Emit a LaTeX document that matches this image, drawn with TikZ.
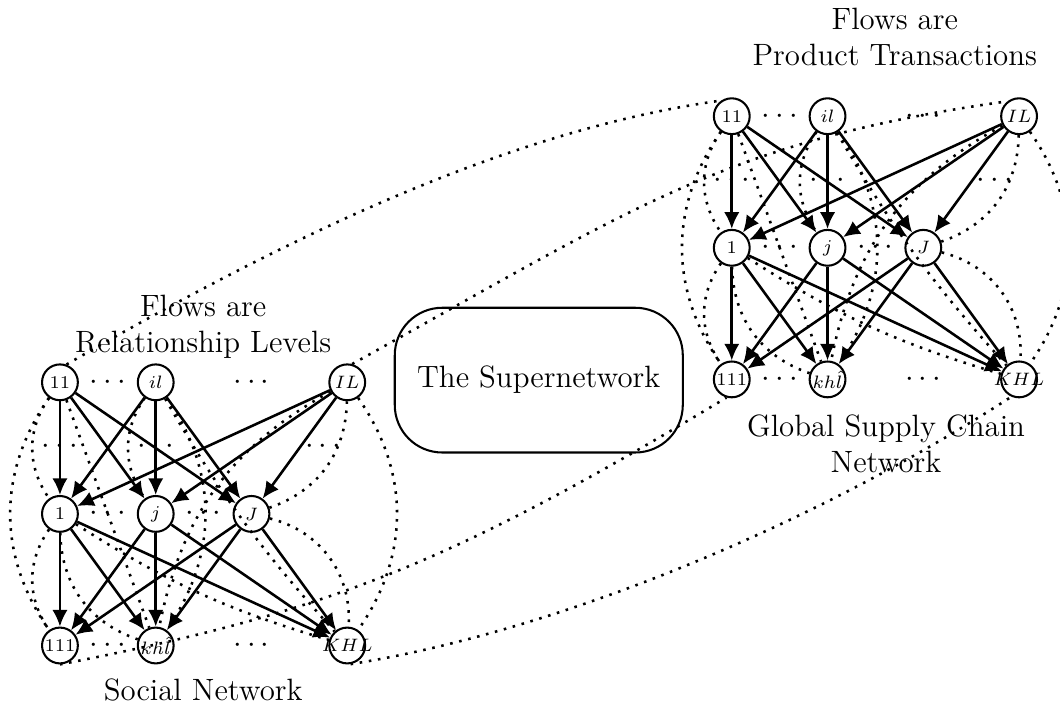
\documentclass[tikz,border=0pt]{standalone}
\usepackage{amssymb}
\usepackage{tikz}
\usetikzlibrary{arrows.meta,positioning}

\begin{document}
\begin{tikzpicture}[node distance=1.8cm and 1.31cm, on grid,
    net/.style={circle, draw, thick, minimum size=0.49cm, inner sep=0pt, font=\scriptsize},
    flow/.style={line width=1pt, -{Latex[length=6.5pt,width=6pt]}},
    link/.style={line width=1pt, dash pattern=on 1pt off 2.6pt},
    dots/.style={font=\large},
    lbl/.style={font=\large, align=center}]
  \useasboundingbox (0,0) rectangle (14.5,9.85);

  % the two networks: s = social, g = global supply chain
  \foreach \n/\x/\y in {s/0.82/4.62, g/10.01/8.26} {
    \node[net] (\n-t1) at (\x,\y) {11};
    \node[net] (\n-t2) [right=of \n-t1] {$il$};
    \node[net] (\n-t3) [right=2.62cm of \n-t2] {$IL$};
    \node[net] (\n-m1) [below=of \n-t1] {1};
    \node[net] (\n-m2) [right=of \n-m1] {$j$};
    \node[net] (\n-m3) [right=of \n-m2] {$J$};
    \node[net] (\n-b1) [below=of \n-m1] {111};
    \node[net] (\n-b2) [right=of \n-b1] {$kh\hat{l}$};
    \node[net] (\n-b3) [right=2.62cm of \n-b2] {\makebox[0pt]{$KHL$}};

    \node[dots] (\n-d1) [right=0.655cm of \n-t1] {$\cdots$};
    \node[dots] (\n-d2) [right=1.31cm of \n-t2] {$\cdots$};
    \node[dots] (\n-d3) [below=0.875cm of \n-t1] {$\cdots$};
    \node[dots] (\n-d4) [below=0.875cm of \n-t2] {$\cdots$};
    \node[dots] (\n-d5) [below left=0.875cm and 0.33cm of \n-t3] {$\cdots$};
    \node[dots] (\n-d6) [right=0.655cm of \n-m1] {$\cdots$};
    \node[dots] (\n-d7) [right=0.655cm of \n-m2] {$\cdots$};
    \node[dots] (\n-d8) [right=0.655cm of \n-b1] {$\cdots$};
    \node[dots] (\n-d9) [right=1.31cm of \n-b2] {$\cdots$};

    \foreach \a in {t1,t2,t3}
      \foreach \b in {m1,m2,m3}
        \draw[flow] (\n-\a) -- (\n-\b);
    \foreach \a in {m1,m2,m3}
      \foreach \b in {b1,b2,b3}
        \draw[flow] (\n-\a) -- (\n-\b);

    \draw[link] (\n-t1) to[bend right=35] (\n-m1);
    \draw[link] (\n-t2) to[bend right=35] (\n-m2);
    \draw[link] (\n-t3) to[bend left=35] (\n-m3);
    \draw[link] (\n-t1) to[bend right=35] (\n-b1);
    \draw[link] (\n-t1) -- (\n-b2);
    \draw[link] (\n-t2) to[bend left=35] (\n-b2);
    \draw[link] (\n-t2) to[bend right=6] (\n-b3);
    \draw[link] (\n-t3) to[bend right=25] (\n-b2);
    \draw[link] (\n-t3) to[bend left=35] (\n-b3);
    \draw[link] (\n-m1) to[bend right=35] (\n-b1);
    \draw[link] (\n-m1) to[bend right=35] (\n-b2);
    \draw[link] (\n-m1) to[bend right=8] (\n-b3);
    \draw[link] (\n-m3) to[bend left=40] (\n-b3);
  }

  \draw (2.78,5.38) node[lbl] (slabel) {Flows are\\Relationship Levels};
  \draw (2.78,0.41) node[lbl] (sname) {Social Network};
  \draw (12.24,9.34) node[lbl] (glabel) {Flows are\\Product Transactions};
  \draw (12.12,3.78) node[lbl] (gname) {Global Supply Chain\\Network};
  \node[draw, thick, rounded corners=0.65cm, minimum width=3.94cm, minimum height=1.98cm,
    font=\large] (super) at (7.37,4.65) {The Supernetwork};

  % links between the two networks
  \draw[link] (s-t1.70) .. controls +(30:3.4cm) and +(188:3cm) .. (g-t1.124);
  \draw[link] (s-t3.75) .. controls +(29:4.4cm) and +(188:3.9cm) .. (g-t3.128);
  \draw[link] (s-b1.270) .. controls +(11:3.8cm) and +(211:4.35cm) .. (g-b1.254);
  \draw[link] (s-b3.280) .. controls +(9:2.8cm) and +(213:3.3cm) .. (g-b3.246);
\end{tikzpicture}
\end{document}
